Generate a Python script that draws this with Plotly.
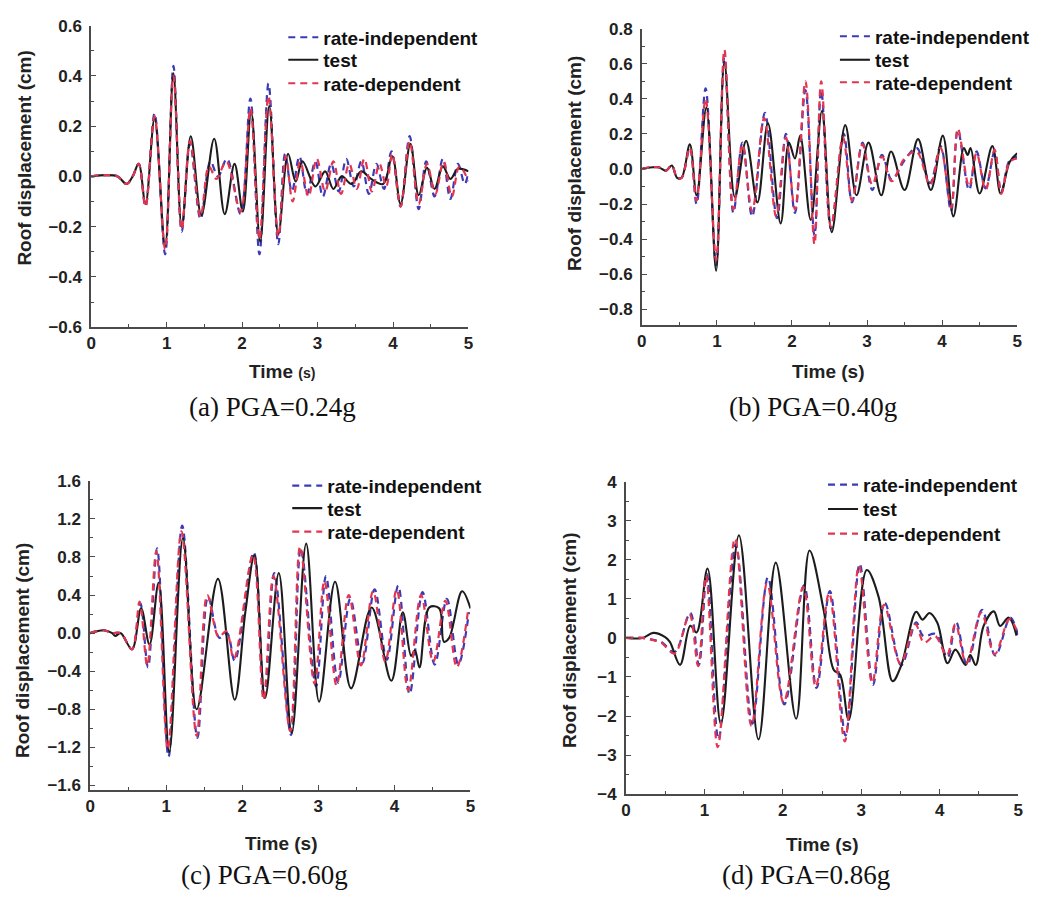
import plotly.graph_objects as go

# ---------------- data ----------------
# Panel (a) PGA=0.24g
A_T_TEST = [0, 0.2, 0.35, 0.47, 0.55, 0.63, 0.72, 0.84, 0.98, 1.09, 1.20, 1.32, 1.46, 1.63, 1.77,
            1.90, 2.01, 2.12, 2.24, 2.36, 2.48, 2.61, 2.71, 2.80, 2.97, 3.10, 3.21, 3.32, 3.45, 3.58,
            3.71, 3.87, 3.99, 4.10, 4.23, 4.34, 4.45, 4.55, 4.66, 4.76, 4.86, 5.0]
A_Y_TEST = [0, 0.005, 0.0, -0.03, 0.0, 0.05, -0.11, 0.23, -0.28, 0.41, -0.20, 0.16, -0.155, 0.15, -0.15,
            0.05, -0.14, 0.26, -0.26, 0.28, -0.23, 0.09, -0.02, 0.06, -0.04, 0.02, -0.05, 0.0, -0.03, 0.02,
            -0.01, -0.03, 0.08, -0.11, 0.13, -0.075, 0.035, -0.05, 0.04, -0.01, 0.03, 0.02]
A_T_RI = [0, 0.2, 0.35, 0.47, 0.55, 0.63, 0.72, 0.84, 0.98, 1.09, 1.20, 1.31, 1.45, 1.58, 1.68,
          1.80, 1.98, 2.11, 2.23, 2.35, 2.48, 2.57, 2.66, 2.76, 2.86, 2.97, 3.07, 3.18, 3.28, 3.38,
          3.48, 3.58, 3.68, 3.78, 3.88, 3.98, 4.10, 4.22, 4.34, 4.44, 4.55, 4.66, 4.76, 4.86, 4.95, 5.0]
A_Y_RI = [0, 0.005, 0.0, -0.03, 0.0, 0.05, -0.12, 0.25, -0.31, 0.44, -0.22, 0.13, -0.17, 0.06, 0.0,
          0.07, -0.15, 0.31, -0.31, 0.37, -0.27, 0.09, -0.06, 0.08, -0.07, 0.06, -0.08, 0.05, -0.06, 0.07,
          -0.04, 0.06, -0.07, 0.05, -0.05, 0.10, -0.12, 0.16, -0.13, 0.06, -0.08, 0.07, -0.09, 0.05, -0.03, 0.02]
A_T_RD = [0, 0.2, 0.35, 0.47, 0.55, 0.63, 0.72, 0.84, 0.98, 1.09, 1.20, 1.31, 1.45, 1.56, 1.66,
          1.79, 1.98, 2.11, 2.23, 2.35, 2.48, 2.58, 2.67, 2.77, 2.88, 2.99, 3.10, 3.21, 3.31, 3.42,
          3.52, 3.62, 3.72, 3.82, 3.91, 3.99, 4.10, 4.22, 4.34, 4.45, 4.56, 4.67, 4.78, 4.88, 5.0]
A_Y_RD = [0, 0.005, 0.0, -0.03, 0.0, 0.05, -0.12, 0.24, -0.29, 0.40, -0.21, 0.14, -0.16, 0.04, -0.01,
          0.06, -0.14, 0.27, -0.25, 0.32, -0.24, 0.08, -0.10, 0.06, -0.08, 0.07, -0.06, 0.06, -0.07, 0.05,
          -0.05, 0.07, -0.06, 0.05, -0.04, 0.09, -0.12, 0.14, -0.11, 0.05, -0.07, 0.06, -0.08, 0.04, -0.02]

# Panel (b) PGA=0.40g
B_T_TEST = [0, 0.22, 0.32, 0.40, 0.47, 0.53, 0.64, 0.73, 0.86, 0.99, 1.10, 1.24, 1.39, 1.54, 1.68,
            1.85, 1.96, 2.04, 2.11, 2.25, 2.40, 2.53, 2.71, 2.86, 3.02, 3.19, 3.32, 3.50, 3.68, 3.85,
            4.01, 4.15, 4.29, 4.34, 4.38, 4.50, 4.67, 4.78, 4.90, 5.0]
B_Y_TEST = [0, 0.01, -0.01, 0.02, -0.05, -0.05, 0.14, -0.15, 0.35, -0.58, 0.61, -0.16, 0.16, -0.19, 0.26,
            -0.31, 0.15, 0.06, 0.19, -0.29, 0.33, -0.36, 0.25, -0.15, 0.15, -0.15, 0.10, -0.12, 0.17, -0.12,
            0.19, -0.27, 0.12, 0.08, 0.12, -0.14, 0.13, -0.14, 0.04, 0.09]
B_T_RI = [0, 0.22, 0.32, 0.40, 0.47, 0.53, 0.64, 0.73, 0.85, 0.99, 1.10, 1.22, 1.34, 1.47, 1.64,
          1.80, 1.92, 2.04, 2.18, 2.30, 2.39, 2.52, 2.69, 2.80, 2.94, 3.07, 3.20, 3.33, 3.50, 3.66,
          3.84, 3.98, 4.12, 4.21, 4.36, 4.46, 4.58, 4.70, 4.79, 4.90, 5.0]
B_Y_RI = [0, 0.01, -0.01, 0.02, -0.05, -0.05, 0.12, -0.20, 0.46, -0.55, 0.64, -0.25, 0.15, -0.27, 0.32,
          -0.28, 0.20, -0.25, 0.45, -0.38, 0.45, -0.34, 0.20, -0.19, 0.15, -0.12, 0.08, -0.06, 0.05, 0.12,
          -0.08, 0.13, -0.24, 0.22, -0.12, 0.10, -0.11, 0.10, -0.13, 0.05, 0.07]
B_T_RD = [0, 0.22, 0.32, 0.40, 0.47, 0.53, 0.64, 0.73, 0.85, 0.99, 1.10, 1.22, 1.34, 1.47, 1.63,
          1.79, 1.92, 2.04, 2.18, 2.30, 2.39, 2.52, 2.68, 2.80, 2.94, 3.07, 3.20, 3.33, 3.50, 3.66,
          3.84, 3.98, 4.12, 4.21, 4.36, 4.46, 4.58, 4.70, 4.79, 4.90, 5.0]
B_Y_RD = [0, 0.01, -0.01, 0.02, -0.05, -0.05, 0.12, -0.18, 0.40, -0.52, 0.68, -0.23, 0.14, -0.24, 0.29,
          -0.27, 0.18, -0.23, 0.50, -0.43, 0.50, -0.33, 0.18, -0.18, 0.14, -0.09, 0.07, -0.07, 0.06, 0.10,
          -0.09, 0.12, -0.22, 0.23, -0.10, 0.09, -0.12, 0.11, -0.14, 0.04, 0.06]

# Panel (c) PGA=0.60g
C_T_TEST = [0, 0.18, 0.29, 0.33, 0.40, 0.55, 0.67, 0.78, 0.90, 1.04, 1.22, 1.40, 1.68, 1.90, 2.04,
            2.16, 2.30, 2.48, 2.65, 2.84, 3.01, 3.22, 3.43, 3.70, 3.96, 4.11, 4.22, 4.27, 4.33, 4.46,
            4.59, 4.65, 4.72, 4.89, 5.0]
C_Y_TEST = [0, 0.03, 0.0, -0.03, 0.0, -0.17, 0.26, -0.12, 0.53, -1.25, 1.0, -0.80, 0.57, -0.70, 0.22,
            0.82, -0.68, 0.63, -1.05, 0.94, -0.72, 0.54, -0.58, 0.27, -0.50, 0.22, -0.24, -0.18, -0.36, 0.27,
            0.26, -0.09, -0.05, 0.44, 0.26]
C_T_RI = [0, 0.18, 0.29, 0.40, 0.55, 0.66, 0.76, 0.88, 1.03, 1.21, 1.41, 1.55, 1.70, 1.80, 1.90,
          2.15, 2.29, 2.42, 2.64, 2.77, 2.97, 3.10, 3.26, 3.42, 3.58, 3.74, 3.90, 4.05, 4.20, 4.37,
          4.53, 4.69, 4.84, 4.98]
C_Y_RI = [0, 0.03, 0.0, 0.0, -0.17, 0.31, -0.36, 0.89, -1.30, 1.13, -1.10, 0.38, -0.05, 0.0, -0.29,
          0.85, -0.68, 0.63, -1.07, 0.89, -0.56, 0.60, -0.52, 0.36, -0.31, 0.46, -0.28, 0.50, -0.64, 0.43,
          -0.33, 0.36, -0.33, 0.22]
C_T_RD = [0, 0.18, 0.29, 0.40, 0.55, 0.65, 0.75, 0.87, 1.02, 1.20, 1.40, 1.54, 1.69, 1.79, 1.89,
          2.14, 2.28, 2.41, 2.63, 2.76, 2.95, 3.08, 3.24, 3.40, 3.56, 3.72, 3.88, 4.03, 4.18, 4.35,
          4.51, 4.67, 4.82, 4.97]
C_Y_RD = [0, 0.03, 0.0, 0.0, -0.17, 0.33, -0.34, 0.86, -1.22, 1.07, -1.08, 0.40, -0.04, 0.02, -0.27,
          0.82, -0.70, 0.60, -1.03, 0.91, -0.53, 0.55, -0.55, 0.40, -0.34, 0.44, -0.30, 0.46, -0.60, 0.40,
          -0.30, 0.34, -0.36, 0.25]

# Panel (d) PGA=0.86g
D_T_TEST = [0, 0.21, 0.35, 0.50, 0.56, 0.69, 0.82, 0.90, 1.04, 1.21, 1.44, 1.69, 1.91, 2.17, 2.34,
            2.52, 2.65, 2.73, 2.84, 3.07, 3.22, 3.40, 3.51, 3.70, 3.78, 3.87, 3.97, 4.10, 4.20, 4.33,
            4.39, 4.46, 4.56, 4.69, 4.77, 4.88, 4.98]
D_Y_TEST = [0, 0.0, 0.13, 0.02, -0.10, -0.69, 0.31, 0.14, 1.78, -2.2, 2.63, -2.6, 1.93, -2.07, 2.24,
            0.72, -0.82, -0.94, -2.1, 1.74, 1.06, -1.11, -0.7, 0.67, 0.47, 0.64, 0.39, -0.65, -0.30, -0.69,
            -0.44, -0.69, 0.31, 0.68, 0.31, 0.52, 0.06]
D_T_RI = [0, 0.21, 0.35, 0.45, 0.62, 0.82, 0.93, 1.03, 1.18, 1.40, 1.61, 1.81, 2.02, 2.27, 2.43,
          2.60, 2.80, 2.98, 3.15, 3.30, 3.51, 3.70, 3.79, 3.95, 4.10, 4.21, 4.35, 4.54, 4.71, 4.90, 5.0]
D_Y_RI = [0, 0.0, -0.05, -0.1, -0.36, 0.64, -0.69, 1.64, -2.6, 2.4, -2.2, 1.55, -1.7, 1.35, -1.28,
          1.2, -2.5, 1.9, -1.2, 0.9, -0.7, 0.4, 0.05, 0.1, -0.5, 0.4, -0.7, 0.72, -0.45, 0.52, 0.06]
D_T_RD = [0, 0.21, 0.35, 0.45, 0.62, 0.81, 0.92, 1.02, 1.17, 1.39, 1.60, 1.80, 2.01, 2.26, 2.42,
          2.59, 2.79, 2.97, 3.14, 3.29, 3.50, 3.69, 3.80, 3.94, 4.09, 4.20, 4.34, 4.53, 4.70, 4.89, 5.0]
D_Y_RD = [0, 0.0, -0.06, -0.12, -0.40, 0.60, -0.72, 1.60, -2.8, 2.55, -2.25, 1.40, -1.65, 1.30, -1.25,
          1.15, -2.65, 1.85, -1.15, 0.85, -0.65, 0.35, -0.12, 0.05, -0.45, 0.35, -0.65, 0.65, -0.42, 0.48, 0.10]

SERIES_NAMES = ["rate-independent", "test", "rate-dependent"]
CAPTIONS = ["(a) PGA=0.24g", "(b) PGA=0.40g", "(c) PGA=0.60g", "(d) PGA=0.86g"]
Y_TITLE = "Roof displacement (cm)"

# ---------------- layout helpers ----------------
W, H = 1037, 901


def fx(p):
    return p / W


def fy(p):
    return 1 - p / H


BLUE = "#3b3bb8"
RED = "#e3354f"
BLACK = "#1c1c1c"
AXC = "#4a4a4a"
SANS = "Liberation Sans, Arial, sans-serif"
SERIF = "Liberation Serif, Times New Roman, serif"

panels = [
    dict(data=(A_T_RI, A_Y_RI, A_T_TEST, A_Y_TEST, A_T_RD, A_Y_RD),
         xpx=(87, 468), ypx=(17, 325), yr=[-0.6, 0.6], dt=0.2, mdt=0.1, fmt=".1f",
         leg_x=323, leg_rows=(29, 52, 76), ytitle=(20, 152), xtitle=(280, 370), cap=(270, 407), small_s=True),
    dict(data=(B_T_RI, B_Y_RI, B_T_TEST, B_Y_TEST, B_T_RD, B_Y_RD),
         xpx=(643, 1022), ypx=(20, 323), yr=[-0.89, 0.8], dt=0.2, mdt=0.1, fmt=".1f",
         leg_x=880, leg_rows=(28, 52, 75), ytitle=(575, 158), xtitle=(832, 370), cap=(816, 407), small_s=False),
    dict(data=(C_T_RI, C_Y_RI, C_T_TEST, C_Y_TEST, C_T_RD, C_Y_RD),
         xpx=(86, 470), ypx=(482, 798), yr=[-1.65, 1.6], dt=0.4, mdt=0.2, fmt=".1f",
         leg_x=327, leg_rows=(487, 510, 534), ytitle=(17, 655), xtitle=(279, 852), cap=(262, 885), small_s=False),
    dict(data=(D_T_RI, D_Y_RI, D_T_TEST, D_Y_TEST, D_T_RD, D_Y_RD),
         xpx=(627, 1023), ypx=(483, 802), yr=[-4, 4], dt=1, mdt=0.5, fmt="d",
         leg_x=868, leg_rows=(486, 511, 536), ytitle=(570, 645), xtitle=(825, 853), cap=(809, 885), small_s=False),
]

fig = go.Figure()
layout = dict(
    width=W, height=H, margin=dict(l=0, r=0, t=0, b=0),
    paper_bgcolor="white", plot_bgcolor="white", showlegend=True,
)
annotations = []
tickfont = dict(family=SANS, size=17, color="#222", weight="bold")
legend_count = 0

for i, p in enumerate(panels):
    n = "" if i == 0 else str(i + 1)
    xref, yref = "x" + n, "y" + n
    t_ri, y_ri, t_te, y_te, t_rd, y_rd = p["data"]
    styles = [
        (t_ri, y_ri, SERIES_NAMES[0], dict(color=BLUE, width=2.2, dash="7px,5px")),
        (t_te, y_te, SERIES_NAMES[1], dict(color=BLACK, width=2.1)),
        (t_rd, y_rd, SERIES_NAMES[2], dict(color=RED, width=2.2, dash="7px,5px")),
    ]
    for k, (tt, yy, name, ln) in enumerate(styles):
        legend_count += 1
        legname = "legend" if legend_count == 1 else "legend" + str(legend_count)
        fig.add_trace(go.Scatter(x=tt, y=yy, name=name, mode="lines",
                                 line=dict(shape="spline", smoothing=1.0, **ln),
                                 xaxis=xref, yaxis=yref, legend=legname))
        layout[legname] = dict(
            x=fx(p["leg_x"] - 42), y=fy(p["leg_rows"][k]), xanchor="left", yanchor="middle",
            bgcolor="rgba(0,0,0,0)", borderwidth=0,
            font=dict(family=SANS, size=19, color="#111", weight="bold"),
            itemwidth=30,
        )

    x0, x1 = p["xpx"]
    y0, y1 = p["ypx"]
    layout["xaxis" + n] = dict(
        domain=[fx(x0), fx(x1)], anchor=yref, range=[0, 5], dtick=1, tick0=0,
        showgrid=False, zeroline=False, showline=True, linecolor=AXC, linewidth=1.6,
        ticks="inside", ticklen=5, tickwidth=1.4, tickcolor=AXC, tickfont=tickfont,
        minor=dict(ticks="inside", ticklen=3, tickwidth=1.2, tickcolor=AXC, dtick=0.5, showgrid=False),
        fixedrange=True,
    )
    layout["yaxis" + n] = dict(
        domain=[fy(y1), fy(y0)], anchor=xref, range=p["yr"], dtick=p["dt"], tick0=0,
        tickformat=p["fmt"],
        showgrid=False, zeroline=False, showline=True, linecolor=AXC, linewidth=1.6,
        ticks="inside", ticklen=5, tickwidth=1.4, tickcolor=AXC, tickfont=tickfont,
        ticklabelstandoff=4,
        minor=dict(ticks="inside", ticklen=3, tickwidth=1.2, tickcolor=AXC, dtick=p["mdt"], showgrid=False),
        fixedrange=True,
    )
    tx, ty = p["ytitle"]
    annotations.append(dict(text=Y_TITLE, x=fx(tx), y=fy(ty), xref="paper", yref="paper",
                            showarrow=False, textangle=-90, xanchor="center", yanchor="middle",
                            font=dict(family=SANS, size=19, color="#222", weight="bold")))
    xx, xy = p["xtitle"]
    xt = "Time <span style='font-size:14px'>(s)</span>" if p["small_s"] else "Time (s)"
    annotations.append(dict(text=xt, x=fx(xx), y=fy(xy), xref="paper", yref="paper",
                            showarrow=False, xanchor="center", yanchor="middle",
                            font=dict(family=SANS, size=19, color="#222", weight="bold")))
    cx, cy = p["cap"]
    annotations.append(dict(text=CAPTIONS[i], x=fx(cx), y=fy(cy), xref="paper", yref="paper",
                            showarrow=False, xanchor="center", yanchor="middle",
                            font=dict(family=SERIF, size=27, color="#111")))

layout["annotations"] = annotations
fig.update_layout(**layout)
fig.write_html("out.html")
